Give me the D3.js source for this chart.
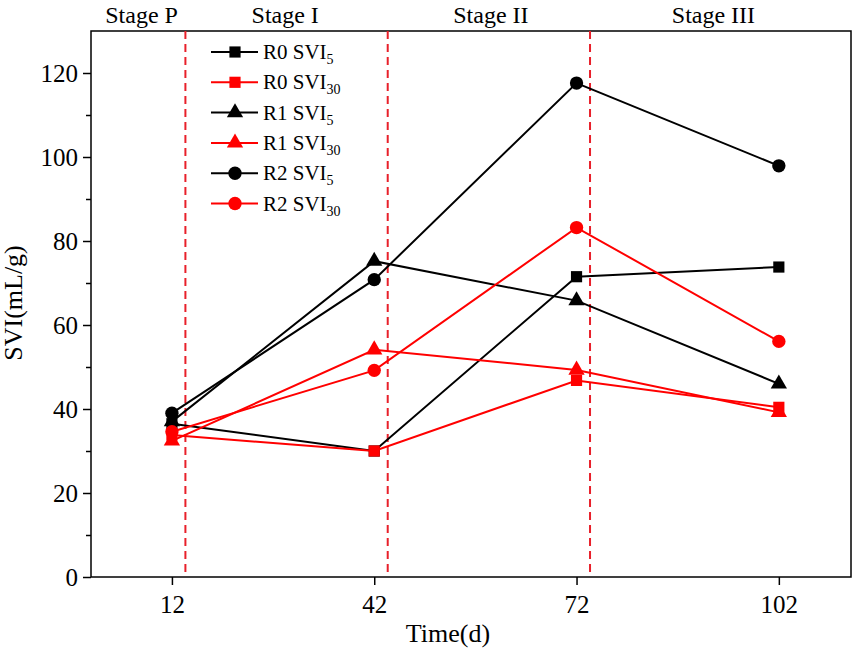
<!DOCTYPE html>
<html>
<head>
<meta charset="utf-8">
<script src="https://cdn.jsdelivr.net/npm/d3@7"></script>
<style>
  body { margin: 0; background: #fff; }
  svg { font-family: "Liberation Serif", "Times New Roman", serif; }
</style>
</head>
<body>
<svg id="chart" width="855" height="653"></svg>
<script>
// sampling days (x categories)
const DAYS = [12, 42, 72, 102];

// SVI values (mL/g)
const R0_SVI5 = [36.5, 30.0, 71.5, 73.8];
const R0_SVI30 = [33.8, 30.0, 46.8, 40.4];
const R1_SVI5 = [37.0, 75.2, 65.8, 46.0];
const R1_SVI30 = [32.4, 54.1, 49.3, 39.2];
const R2_SVI5 = [39.0, 70.8, 117.6, 97.9];
const R2_SVI30 = [34.6, 49.2, 83.2, 56.1];

// stage boundaries (days) and stage label centres (days)
const STAGE_BOUNDS = [14, 44, 74];
const STAGE_NAMES = ["Stage P", "Stage I", "Stage II", "Stage III"];
const STAGE_CENTRES = [7.5, 28.8, 59.3, 92.3];

const Y_TICKS = [0, 20, 40, 60, 80, 100, 120];
const Y_MINOR = [10, 30, 50, 70, 90, 110];

const SERIES = [
  { name: "R0", sub: "5", values: R0_SVI5, color: "#000", symbol: "square" },
  { name: "R0", sub: "30", values: R0_SVI30, color: "#f00", symbol: "square" },
  { name: "R1", sub: "5", values: R1_SVI5, color: "#000", symbol: "triangle" },
  { name: "R1", sub: "30", values: R1_SVI30, color: "#f00", symbol: "triangle" },
  { name: "R2", sub: "5", values: R2_SVI5, color: "#000", symbol: "circle" },
  { name: "R2", sub: "30", values: R2_SVI30, color: "#f00", symbol: "circle" },
];

const config = {
  margin: { top: 31, left: 91 },
  width: 760,
  height: 546,
};

const svg = d3
  .select("#chart")
  .append("g")
  .attr("transform", `translate(${config.margin.left}, ${config.margin.top})`);

// time scale (x-axis)
const xScale = d3.scaleLinear().domain([0, 112.7]).range([0, config.width]);

// SVI scale (y-axis)
const yScale = d3.scaleLinear().domain([0, 130]).range([config.height, 0]);

// marker generators
const symbolType = {
  square: d3.symbolSquare,
  triangle: d3.symbolTriangle,
  circle: d3.symbolCircle,
};
const symbolSize = { square: 125, triangle: 115, circle: 140 };
function symbolPath(kind) {
  return d3.symbol().type(symbolType[kind]).size(symbolSize[kind])();
}

// x axis
svg
  .append("g")
  .attr("class", "axis axis-x")
  .attr("transform", `translate(0, ${config.height})`)
  .call(d3.axisBottom(xScale).tickValues(DAYS).tickSize(8).tickPadding(10));

// y axis with minor ticks
svg
  .append("g")
  .attr("class", "axis axis-y")
  .call(d3.axisLeft(yScale).tickValues(Y_TICKS).tickSize(8).tickPadding(5));
svg
  .append("g")
  .attr("class", "axis axis-y-minor")
  .call(d3.axisLeft(yScale).tickValues(Y_MINOR).tickSize(5).tickFormat(""));

svg.selectAll(".axis .domain").remove();
svg.selectAll(".axis line").attr("stroke", "#000").attr("stroke-width", 1.5);
svg
  .selectAll(".axis text")
  .attr("fill", "#000")
  .style("font-size", "25px")
  .style("font-family", "Liberation Serif, serif");

// frame
svg
  .append("rect")
  .attr("x", 0)
  .attr("y", 0)
  .attr("width", config.width)
  .attr("height", config.height)
  .attr("fill", "none")
  .attr("stroke", "#000")
  .attr("stroke-width", 1.5);

// stage boundary lines
svg
  .selectAll(".stage-line")
  .data(STAGE_BOUNDS)
  .join("line")
  .attr("class", "stage-line")
  .attr("x1", (d) => xScale(d))
  .attr("x2", (d) => xScale(d))
  .attr("y1", 0)
  .attr("y2", config.height)
  .attr("stroke", "#e8202a")
  .attr("stroke-width", 2)
  .attr("stroke-dasharray", "8,5");

// stage labels above the frame
svg
  .selectAll(".stage-label")
  .data(STAGE_NAMES)
  .join("text")
  .attr("class", "stage-label")
  .attr("x", (d, i) => xScale(STAGE_CENTRES[i]))
  .attr("y", -8)
  .attr("text-anchor", "middle")
  .style("font-size", "24px")
  .text((d) => d);

// series lines and markers
SERIES.forEach((s) => {
  const pts = DAYS.map((day, i) => ({ day, v: s.values[i] }));
  svg
    .append("path")
    .datum(pts)
    .attr("fill", "none")
    .attr("stroke", s.color)
    .attr("stroke-width", 2)
    .attr(
      "d",
      d3
        .line()
        .x((d) => xScale(d.day))
        .y((d) => yScale(d.v))
    );
  svg
    .selectAll(null)
    .data(pts)
    .join("path")
    .attr("d", symbolPath(s.symbol))
    .attr("transform", (d) => `translate(${xScale(d.day)}, ${yScale(d.v)})`)
    .attr("fill", s.color);
});

// legend
const legend = svg.append("g").attr("transform", "translate(120, 21)");
SERIES.forEach((s, i) => {
  const row = legend.append("g").attr("transform", `translate(0, ${i * 30.3})`);
  row
    .append("line")
    .attr("x1", 0)
    .attr("x2", 47)
    .attr("stroke", s.color)
    .attr("stroke-width", 2);
  row
    .append("path")
    .attr("d", symbolPath(s.symbol))
    .attr("transform", "translate(24, 0)")
    .attr("fill", s.color);
  const txt = row
    .append("text")
    .attr("x", 52)
    .attr("y", 7)
    .style("font-size", "21px");
  txt.append("tspan").text(`${s.name} SVI`);
  txt
    .append("tspan")
    .attr("dy", 5)
    .style("font-size", "14px")
    .text(s.sub);
});

// axis labels
svg
  .append("text")
  .attr("class", "label label-x")
  .attr("text-anchor", "middle")
  .attr("x", 357)
  .attr("y", config.height + 65)
  .style("font-size", "26px")
  .text("Time(d)");

svg
  .append("text")
  .attr("class", "label label-y")
  .attr("text-anchor", "middle")
  .attr("transform", `translate(-69, 272) rotate(-90)`)
  .style("font-size", "26px")
  .text("SVI(mL/g)");
</script>
</body>
</html>
